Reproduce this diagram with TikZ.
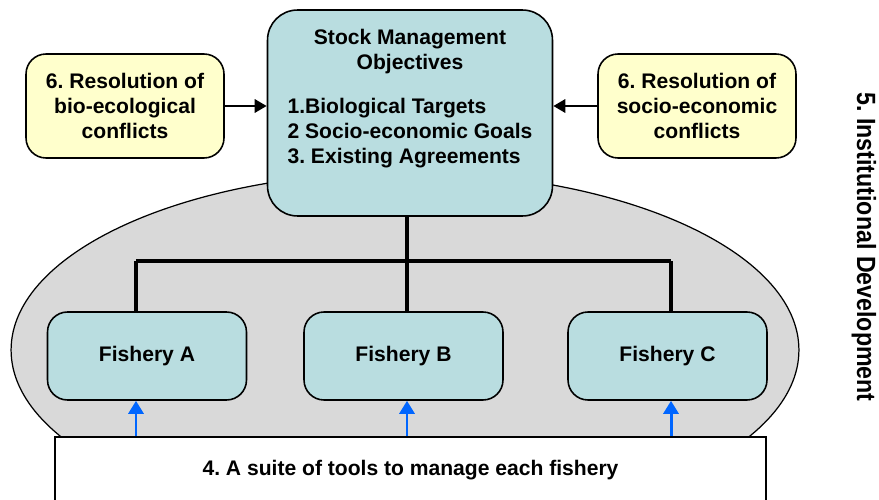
\documentclass[tikz,border=0pt]{standalone}
\usepackage{fontspec}
\setmainfont{Liberation Sans}
\usetikzlibrary{arrows.meta}
\frenchspacing

\definecolor{fishteal}{HTML}{B9DDE0}
\definecolor{confyellow}{HTML}{FFFFCC}
\definecolor{ovalgray}{HTML}{D9D9D9}
\definecolor{toolblue}{HTML}{0066FF}

\begin{document}
\begin{tikzpicture}[x=0.02cm, y=-0.02cm,
  font=\bfseries\fontsize{12}{14.2}\selectfont,
  objbox/.style={draw, line width=0.9pt, fill=fishteal, rounded corners=0.6cm,
    minimum width=5.7cm, minimum height=4.12cm},
  conflictbox/.style={draw, line width=0.9pt, fill=confyellow, rounded corners=0.4cm,
    minimum width=3.96cm, minimum height=2.08cm, align=center},
  fishbox/.style={draw, line width=0.9pt, fill=fishteal, rounded corners=0.4cm,
    minimum width=3.98cm, minimum height=1.76cm},
  toolbox/.style={draw, line width=0.9pt, fill=white, minimum width=14.22cm, minimum height=1.32cm},
  treeline/.style={line width=1.8pt},
  linkarrow/.style={line width=1.7pt, -{Triangle[length=0.24cm, width=0.26cm]}},
  toolarrow/.style={toolblue, line width=1.7pt, -{Triangle[length=0.26cm, width=0.3cm]}}]
\useasboundingbox (0,0) rectangle (879,500);

% grey oval behind the fisheries
\draw[line width=0.7pt, fill=ovalgray] (405,350) ellipse [x radius=7.88cm, y radius=3.56cm];

\node[objbox] (objectives) at (410,113) {};
\node[align=center] (objtext) at (410,100) {Stock Management\\Objectives\\[0.42cm]
  \begin{tabular}{@{}l@{}}1.Biological Targets\\2 Socio-economic Goals\\3. Existing Agreements\end{tabular}};

\node[conflictbox] (bioconf) at (125,106) {6. Resolution of\\bio-ecological\\conflicts};
\node[conflictbox] (socioconf) at (697,106) {6. Resolution of\\socio-economic\\conflicts};

\node[fishbox] (fishA) at (147,356) {Fishery A};
\node[fishbox] (fishB) at (403.5,356) {Fishery B};
\node[fishbox] (fishC) at (667.5,356) {Fishery C};

\node[toolbox] (tools) at (410.5,470) {4. A suite of tools to manage each fishery};

\node[rotate=-90, font=\bfseries\fontsize{15}{17}\selectfont] (institutional) at (864,247)
  {\scalebox{0.88}[1]{5. Institutional Development}};

\draw[linkarrow] (bioconf.east) -- (objectives.west |- bioconf.east);
\draw[linkarrow] (socioconf.west) -- (objectives.east |- socioconf.west);

\coordinate (trunk) at (407,261);
\draw[treeline] (trunk |- objectives.south) -- (trunk);
\foreach \f/\bx in {fishA/136, fishB/407, fishC/671}{
\coordinate (b\f) at (\bx,261);
\draw[treeline] (b\f) -- (b\f |- \f.north);
\draw[toolarrow] (b\f |- tools.north) -- (b\f |- \f.south);
}
\draw[treeline] (bfishA) -- (bfishC);
\end{tikzpicture}
\end{document}
